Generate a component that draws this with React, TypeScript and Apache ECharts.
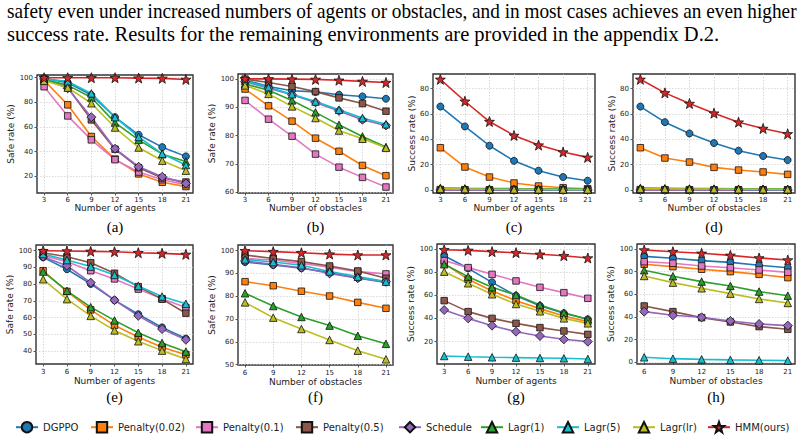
import { useEffect, useRef } from "react";
import * as echarts from "echarts";

// Methods compared, in drawing order (HMM last so it sits on top).
const methods = [
  "DGPPO",
  "Penalty(0.02)",
  "Penalty(0.1)",
  "Penalty(0.5)",
  "Schedule",
  "Lagr(1)",
  "Lagr(5)",
  "Lagr(lr)",
  "HMM(ours)",
];

// x values
const agentCounts = [3, 6, 9, 12, 15, 18, 21];
const obstacleCounts = [3, 6, 9, 12, 15, 18, 21];
const obstacleCountsFrom6 = [6, 9, 12, 15, 18, 21];

// tick labels
const ticksX3 = [3, 6, 9, 12, 15, 18, 21];
const ticksX6 = [6, 9, 12, 15, 18, 21];
const ticksA = [20, 40, 60, 80, 100];
const ticksB = [60, 70, 80, 90, 100];
const ticksCD = [0, 20, 40, 60, 80];
const ticksE = [40, 50, 60, 70, 80, 90, 100];
const ticksF = [50, 60, 70, 80, 90, 100];
const ticksG = [20, 40, 60, 80, 100];
const ticksH = [0, 20, 40, 60, 80, 100];

// (a) safe rate vs number of agents — rows follow `methods`
const safeAgentsA = [
  [99.5, 96, 86, 68, 53.7, 43.7, 36.2],
  [98, 78, 52.3, 34, 22, 15.2, 11.7],
  [92.7, 69, 49.6, 33.5, 23.5, 17.3, 13.3],
  [99, 92, 65.8, 42, 27, 18.7, 15.4],
  [99, 91.4, 68, 42.4, 27.8, 19.7, 14.3],
  [98.5, 94, 84, 63.6, 49.6, 38, 32],
  [99, 97, 87.3, 68, 52, 38.3, 29.2],
  [97.5, 92, 79.3, 59.6, 43.4, 32.7, 24.6],
  [100, 100, 100, 100, 99.7, 99.5, 98.6],
];

// (b) safe rate vs number of obstacles
const safeObstaclesB = [
  [99.6, 97.3, 95.8, 95.4, 94.4, 93.8, 93],
  [96.4, 90.5, 85.1, 79.1, 74.5, 69.5, 65.9],
  [92.4, 85.8, 79.8, 73.5, 68.9, 65.3, 61.9],
  [99.9, 98.7, 97.3, 95.5, 93.3, 91.3, 88.6],
  [99, 96.7, 94.4, 91.7, 88.7, 85.6, 83.6],
  [98.2, 96, 92.4, 88.2, 83.8, 79.7, 76],
  [99.3, 97, 94.6, 92, 89.1, 86.2, 84],
  [97.7, 94.7, 90.3, 86.2, 81.8, 78.9, 75.7],
  [100, 100, 99.9, 99.8, 99.5, 99.1, 98.7],
];

// (c) success rate vs number of agents
const successAgentsC = [
  [65.8, 50.1, 34.9, 23, 15.2, 10.2, 7.3],
  [33.3, 18.1, 10.2, 5.5, 3.1, 1.8, 1.0],
  [0, 0, 0, 0, 0, 0, 0],
  [0.3, 0.2, 0.1, 0.1, 0.1, 0, 0],
  [0, 0, 0, 0, 0, 0, 0],
  [1.6, 1.3, 1.1, 1.0, 0.9, 0.8, 0.8],
  [0.8, 0.6, 0.5, 0.4, 0.4, 0.3, 0.3],
  [1.0, 0.8, 0.6, 0.5, 0.5, 0.4, 0.4],
  [87.3, 70, 54, 43, 35.4, 29.9, 25.7],
];

// (d) success rate vs number of obstacles
const successObstaclesD = [
  [65.8, 53.5, 44.6, 37, 31, 26.8, 23.6],
  [33.3, 25.2, 22, 17.8, 15.7, 14.2, 12.3],
  [0, 0, 0, 0, 0, 0, 0],
  [0.3, 0.2, 0.2, 0.1, 0.1, 0.1, 0.1],
  [0, 0, 0, 0, 0, 0, 0],
  [1.6, 1.4, 1.2, 1.1, 1.0, 1.0, 0.9],
  [0.8, 0.7, 0.6, 0.5, 0.5, 0.4, 0.4],
  [1.0, 0.9, 0.8, 0.7, 0.6, 0.6, 0.5],
  [87.3, 76.6, 68.2, 60.6, 53.5, 48.5, 44.3],
];

// (e) safe rate vs number of agents
const safeAgentsE = [
  [96, 88.9, 80.1, 70.4, 62, 54.1, 47.4],
  [88, 75.6, 64.6, 55.3, 48.3, 42.2, 37.8],
  [97.2, 93.4, 88, 83.1, 77, 71.2, 66],
  [98.8, 96.4, 92.8, 86.5, 78.5, 71, 62.6],
  [96.4, 91, 80.9, 70.4, 61, 53.1, 46.7],
  [87.5, 76, 66.2, 58.3, 50.9, 44.8, 39.6],
  [98, 94.4, 90.5, 85.5, 78.9, 72.6, 68.2],
  [82.9, 71, 61, 52.3, 45.8, 40.2, 35.2],
  [100, 99.8, 99.6, 99.4, 98.8, 98.4, 97.8],
];

// (f) safe rate vs number of obstacles
const safeObstaclesF = [
  [95, 93.7, 92.3, 90.4, 88, 86.1],
  [86.4, 84.6, 82.2, 80.1, 77.3, 74.7],
  [96.6, 95.9, 94.4, 92.7, 90.8, 89.8],
  [98.1, 96.6, 95.2, 93.3, 91.1, 87.9],
  [95.5, 94, 92.5, 90, 87.9, 86.4],
  [81.3, 75.7, 70.9, 67.1, 62.6, 59.1],
  [96.2, 95, 93.6, 90.9, 88.6, 86.4],
  [77.3, 70.6, 65.6, 60.8, 56.1, 52.3],
  [100, 99.6, 99.1, 98.5, 98.1, 98.1],
];

// (g) success rate vs number of agents
const successAgentsG = [
  [94.2, 83.3, 71.2, 59.7, 51, 44.5, 39.3],
  [87.6, 73.8, 63.7, 55.4, 48.5, 42.2, 37.3],
  [90, 83.9, 78.1, 72.4, 66.9, 62.3, 57.4],
  [55.4, 45.9, 40.1, 35.8, 32.1, 29.2, 26.3],
  [47.3, 40.1, 33.8, 28.6, 24.9, 22, 20],
  [86.8, 76.1, 66.9, 60.3, 51.7, 45, 39.3],
  [7.6, 7.0, 6.5, 6.2, 5.9, 5.6, 5.0],
  [80.4, 70.4, 60.9, 52.5, 46.2, 40.1, 35.8],
  [99.4, 98.8, 97.7, 96.8, 95.4, 94.2, 92.2],
];

// (h) success rate vs number of obstacles
const successObstaclesH = [
  [93.5, 91.8, 89.7, 88.2, 85.6, 83.5],
  [86.5, 84.4, 82.1, 80, 77.6, 74.7],
  [88.8, 87.4, 85, 83.5, 81.5, 79.4],
  [49.7, 44.7, 39.4, 35.6, 31.5, 29.1],
  [44.7, 41.5, 39.7, 36.5, 33.8, 32.4],
  [81.2, 75.9, 71.2, 67.4, 62.4, 58.8],
  [4.4, 3.2, 2.6, 2.1, 1.8, 1.5],
  [76.2, 70.3, 65.3, 60.6, 55.9, 52.4],
  [99.1, 97.6, 96.2, 94.4, 92.1, 90.3],
];

const paragraphLine1 =
  "safety even under increased numbers of agents or obstacles, and in most cases achieves an even higher";
const paragraphLine2 =
  "success rate. Results for the remaining environments are provided in the appendix D.2.";

const colors = [
  "#1f77b4",
  "#ff7f0e",
  "#e377c2",
  "#8c564b",
  "#9467bd",
  "#2ca02c",
  "#17becf",
  "#bcbd22",
  "#d62728",
];

// Left edge of each legend entry's icon.
const legendLefts = [15, 90, 195, 295, 398, 480, 556, 632, 707];

function starPath(): string {
  const pts: string[] = [];
  for (let i = 0; i < 10; i++) {
    const r = i % 2 === 0 ? 10 : 4;
    const a = -Math.PI / 2 + (i * Math.PI) / 5;
    pts.push(`${(r * Math.cos(a)).toFixed(2)},${(r * Math.sin(a)).toFixed(2)}`);
  }
  return "path://M" + pts.join(" L") + " Z";
}

const STAR = starPath();
const symbols = ["circle", "rect", "rect", "rect", "diamond", "triangle", "triangle", "triangle", STAR];
const symbolSizes = [7, 6.5, 6.5, 6.5, 9, 7.5, 7.5, 7.5, 10];

const SANS = "DejaVu Sans";
const SERIF = "Liberation Serif";

type Panel = {
  values: number[][];
  xs: number[];
  xTicks: number[];
  xRange: [number, number];
  yTicks: number[];
  yRange: [number, number];
  xName: string;
  yName: string;
  caption: string;
  grid: { left: number; top: number; width: number; height: number };
  yNameGap: number;
  xNameGap: number;
  xLabelMargin: number;
  captionY: number;
};

const panels: Panel[] = [
  {
    values: safeAgentsA, xs: agentCounts, xTicks: ticksX3, xRange: [2.1, 21.9],
    yTicks: ticksA, yRange: [6.5, 102.2], xName: "Number of agents", yName: "Safe rate (%)",
    caption: "(a)", grid: { left: 37, top: 75, width: 156, height: 118 },
    yNameGap: 19, xNameGap: 10, xLabelMargin: 3, captionY: 227,
  },
  {
    values: safeObstaclesB, xs: obstacleCounts, xTicks: ticksX3, xRange: [2.1, 21.9],
    yTicks: ticksB, yRange: [59.8, 101.7], xName: "Number of obstacles", yName: "Safe rate (%)",
    caption: "(b)", grid: { left: 238, top: 74, width: 155, height: 119 },
    yNameGap: 19, xNameGap: 10, xLabelMargin: 3, captionY: 227,
  },
  {
    values: successAgentsC, xs: agentCounts, xTicks: ticksX3, xRange: [2.1, 21.9],
    yTicks: ticksCD, yRange: [-2.4, 91.5], xName: "Number of agents", yName: "Success rate (%)",
    caption: "(c)", grid: { left: 433, top: 74, width: 162, height: 119 },
    yNameGap: 13, xNameGap: 10, xLabelMargin: 3, captionY: 227,
  },
  {
    values: successObstaclesD, xs: obstacleCounts, xTicks: ticksX3, xRange: [2.1, 21.9],
    yTicks: ticksCD, yRange: [-2.4, 91.5], xName: "Number of obstacles", yName: "Success rate (%)",
    caption: "(d)", grid: { left: 633, top: 74, width: 162, height: 119 },
    yNameGap: 13, xNameGap: 10, xLabelMargin: 3, captionY: 227,
  },
  {
    values: safeAgentsE, xs: agentCounts, xTicks: ticksX3, xRange: [2.1, 21.9],
    yTicks: ticksE, yRange: [32.2, 103.4], xName: "Number of agents", yName: "Safe rate (%)",
    caption: "(e)", grid: { left: 36, top: 245, width: 157, height: 119 },
    yNameGap: 18, xNameGap: 12, xLabelMargin: 4, captionY: 397,
  },
  {
    values: safeObstaclesF, xs: obstacleCountsFrom6, xTicks: ticksX6, xRange: [5.25, 21.75],
    yTicks: ticksF, yRange: [49.8, 102.5], xName: "Number of obstacles", yName: "Safe rate (%)",
    caption: "(f)", grid: { left: 238, top: 245, width: 155, height: 120 },
    yNameGap: 20, xNameGap: 12, xLabelMargin: 4, captionY: 397,
  },
  {
    values: successAgentsG, xs: agentCounts, xTicks: ticksX3, xRange: [2.1, 21.9],
    yTicks: ticksG, yRange: [0.7, 104.3], xName: "Number of agents", yName: "Success rate (%)",
    caption: "(g)", grid: { left: 437, top: 244, width: 158, height: 120 },
    yNameGap: 17, xNameGap: 12, xLabelMargin: 4, captionY: 397,
  },
  {
    values: successObstaclesH, xs: obstacleCountsFrom6, xTicks: ticksX6, xRange: [5.25, 21.75],
    yTicks: ticksH, yRange: [-1.5, 104.4], xName: "Number of obstacles", yName: "Success rate (%)",
    caption: "(h)", grid: { left: 637, top: 244, width: 158, height: 120 },
    yNameGap: 17, xNameGap: 12, xLabelMargin: 4, captionY: 397,
  },
];

// Width of a string in the given CSS font.
function textWidth(text: string, font: string): number {
  const ctx = document.createElement("canvas").getContext("2d");
  if (!ctx) return text.length * 8.3;
  ctx.font = font;
  return ctx.measureText(text).width;
}

export default function App() {
  const ref = useRef<HTMLDivElement>(null);

  useEffect(() => {
    document.body.style.margin = "0";
    if (!ref.current) return;
    const chart = echarts.init(ref.current, undefined, { renderer: "svg" });

    const axisText = { fontFamily: SANS, fontSize: 7, color: "#222" };

    const grids = panels.map((p) => ({
      ...p.grid,
      show: true,
      borderColor: "#333",
      borderWidth: 1.4,
      containLabel: false,
    }));

    const xAxes = panels.map((p, i) => ({
      type: "value" as const,
      gridIndex: i,
      min: p.xRange[0],
      max: p.xRange[1],
      name: p.xName,
      nameLocation: "middle" as const,
      nameGap: p.xNameGap,
      nameTextStyle: { fontFamily: SANS, fontSize: 9, color: "#222", verticalAlign: "top" as const },
      axisLine: { show: false },
      axisTick: { show: true, length: 2.5, customValues: p.xTicks, lineStyle: { color: "#333", width: 0.8 } },
      axisLabel: { ...axisText, margin: p.xLabelMargin, customValues: p.xTicks, formatter: (v: number) => String(v) },
      splitLine: { show: true, lineStyle: { color: "#c8c8c8", width: 0.7, type: [1.5, 1.5] } },
    }));

    const yAxes = panels.map((p, i) => ({
      type: "value" as const,
      gridIndex: i,
      min: p.yRange[0],
      max: p.yRange[1],
      name: p.yName,
      nameLocation: "middle" as const,
      nameGap: p.yNameGap,
      nameTextStyle: { fontFamily: SANS, fontSize: 9, color: "#222" },
      axisLine: { show: false },
      axisTick: { show: true, length: 2.5, customValues: p.yTicks, lineStyle: { color: "#333", width: 0.8 } },
      axisLabel: { ...axisText, margin: 4, customValues: p.yTicks, formatter: (v: number) => String(v) },
      splitLine: { show: true, lineStyle: { color: "#c8c8c8", width: 0.7, type: [1.5, 1.5] } },
    }));

    const series: any[] = [];
    panels.forEach((p, i) => {
      methods.forEach((name, m) => {
        series.push({
          type: "line",
          name,
          xAxisIndex: i,
          yAxisIndex: i,
          data: p.xs.map((x, k) => [x, p.values[m][k]]),
          symbol: symbols[m],
          symbolSize: symbolSizes[m],
          showAllSymbol: true,
          clip: false,
          lineStyle: { color: colors[m], width: 1.6 },
          itemStyle: { color: colors[m], borderColor: "#111", borderWidth: 0.8 },
          emphasis: { disabled: true },
          z: 2,
        });
      });
    });

    // Paragraph above the figure; the first line is set flush to both margins.
    const textFont = `20.5px "${SERIF}"`;
    const line1Width = textWidth(paragraphLine1, textFont);
    const line1Scale = Math.min(1, 790 / line1Width);
    const graphics: any[] = [
      {
        type: "text",
        x: 7,
        y: 11,
        scaleX: line1Scale,
        style: { text: paragraphLine1, font: textFont, fill: "#000", textVerticalAlign: "middle" },
      },
      {
        type: "text",
        x: 7,
        y: 34,
        style: { text: paragraphLine2, font: textFont, fill: "#000", textVerticalAlign: "middle" },
      },
    ];
    panels.forEach((p) => {
      graphics.push({
        type: "text",
        x: p.grid.left + p.grid.width / 2,
        y: p.captionY,
        style: {
          text: p.caption,
          font: `15px "${SERIF}"`,
          fill: "#000",
          textAlign: "center",
          textVerticalAlign: "middle",
        },
      });
    });

    const legends = methods.map((name, m) => ({
      data: [name],
      left: legendLefts[m],
      top: 421,
      padding: 0,
      itemWidth: 22,
      itemHeight: 13,
      selectedMode: false,
      textStyle: { fontFamily: SANS, fontSize: 10, color: "#222" },
    }));

    chart.setOption({
      animation: false,
      backgroundColor: "#fff",
      grid: grids,
      xAxis: xAxes,
      yAxis: yAxes,
      series,
      graphic: graphics,
      legend: legends,
    });

    return () => chart.dispose();
  }, []);

  return <div ref={ref} style={{ width: 805, height: 443 }} />;
}
